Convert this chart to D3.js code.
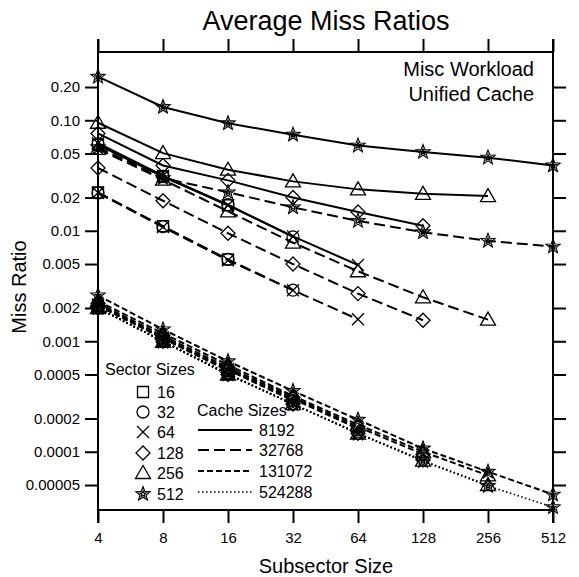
<!DOCTYPE html>
<html>
<head>
<meta charset="utf-8">
<script src="https://cdn.jsdelivr.net/npm/d3@7"></script>
<style>
  html, body { margin: 0; padding: 0; background: #fff; }
  svg { display: block; font-family: Arial, "Liberation Sans", sans-serif; }
</style>
</head>
<body>
<svg id="chart" width="579" height="577"></svg>
<script>
// Subsector sizes on the x axis (bytes)
const subsectors = [4, 8, 16, 32, 64, 128, 256, 512];
const sectorSizes = [16, 32, 64, 128, 256, 512];
const cacheSizes = [8192, 32768, 131072, 524288];

const yTickValues = [0.2, 0.1, 0.05, 0.02, 0.01, 0.005, 0.002, 0.001, 0.0005, 0.0002, 0.0001, 0.00005];
const yTickLabels = ["0.20", "0.10", "0.05", "0.02", "0.01", "0.005", "0.002", "0.001", "0.0005", "0.0002", "0.0001", "0.00005"];

// Miss ratios per sector size (rows: 16, 32, 64, 128, 256, 512), one value per subsector size
const miss8192 = [
  [0.060, 0.031, 0.0170],
  [0.061, 0.031, 0.0172, 0.0088],
  [0.062, 0.0315, 0.0170, 0.0089, 0.0049],
  [0.076, 0.039, 0.0286, 0.0200, 0.0148, 0.0111],
  [0.095, 0.0504, 0.0357, 0.0280, 0.0237, 0.0216, 0.0206],
  [0.248, 0.132, 0.094, 0.074, 0.059, 0.0516, 0.0459, 0.039]
];
const miss32768 = [
  [0.0222, 0.0110, 0.0055],
  [0.0220, 0.0109, 0.0055, 0.0029],
  [0.0221, 0.0108, 0.0054, 0.0029, 0.00158],
  [0.037, 0.0187, 0.0095, 0.0050, 0.0027, 0.00155],
  [0.055, 0.029, 0.0150, 0.0078, 0.0043, 0.0025, 0.00157],
  [0.057, 0.030, 0.0223, 0.0163, 0.0123, 0.0097, 0.0081, 0.0072]
];
const miss131072 = [
  [0.0021, 0.00106, 0.00054],
  [0.0021, 0.00107, 0.00055, 0.00029],
  [0.00215, 0.00108, 0.00056, 0.00030, 0.000162],
  [0.0022, 0.00112, 0.00058, 0.00031, 0.000168, 0.000095],
  [0.0023, 0.00118, 0.00061, 0.00032, 0.000176, 0.000100, 0.000061],
  [0.0026, 0.00128, 0.00066, 0.000355, 0.000195, 0.000107, 0.000066, 0.000041]
];
const miss524288 = [
  [0.0020, 0.00100, 0.00051],
  [0.0020, 0.00100, 0.00051, 0.00027],
  [0.0020, 0.00100, 0.00050, 0.00027, 0.000148],
  [0.0020, 0.00100, 0.00050, 0.00027, 0.000147, 0.000084],
  [0.0020, 0.00099, 0.00050, 0.00027, 0.000146, 0.000083, 0.000050],
  [0.0020, 0.00099, 0.00050, 0.00027, 0.000146, 0.000082, 0.000049, 0.0000315]
];

const missByCache = [miss8192, miss32768, miss131072, miss524288];

// ---- layout ----
const svg = d3.select("#chart");
const plotLeft = 98, plotRight = 553, plotTop = 52, plotBottom = 510;
const tickLen = 13;
const fontFamily = "Arial, 'Liberation Sans', sans-serif";

const x = d3.scaleLog().base(2).domain([4, 512]).range([plotLeft, plotRight]);
const y = d3.scaleLog().domain([0.0000297, 0.415]).range([plotBottom, plotTop]);

// line style per cache size
const lineStyles = [
  { dash: null, width: 2 },
  { dash: "11,5", width: 2 },
  { dash: "6,3", width: 2 },
  { dash: "1.5,2.5", width: 1.6 }
];

// marker shapes per sector size
function starPath(R, r) {
  const pts = [];
  for (let i = 0; i < 10; i++) {
    const a = -Math.PI / 2 + i * Math.PI / 5;
    const rad = i % 2 === 0 ? R : r;
    pts.push([rad * Math.cos(a), rad * Math.sin(a)]);
  }
  return "M" + pts.map(p => p[0].toFixed(2) + "," + p[1].toFixed(2)).join("L") + "Z";
}
function circlePath(r) {
  const p = d3.path();
  p.moveTo(r, 0);
  p.arc(0, 0, r, 0, 2 * Math.PI);
  p.closePath();
  return p.toString();
}
const markerPaths = [
  "M-5.5,-5.5L5.5,-5.5L5.5,5.5L-5.5,5.5Z",   // square
  circlePath(6),                              // circle
  "M-6,-6L6,6M-6,6L6,-6",                     // X
  "M0,-7L7,0L0,7L-7,0Z",                      // diamond
  "M0,-7.5L7.5,5.5L-7.5,5.5Z",                // triangle
  starPath(7.5, 3.2) + starPath(3.2, 1.3)     // star
];

function drawMarker(g, cx, cy, idx) {
  g.append("path")
    .attr("d", markerPaths[idx])
    .attr("transform", `translate(${cx},${cy})`)
    .attr("fill", "none")
    .attr("stroke", "#000")
    .attr("stroke-width", idx === 5 ? 1.1 : 1.3);
}

// ---- axes frame ----
const axisG = svg.append("g").attr("stroke", "#000").attr("stroke-width", 2).attr("fill", "none");
axisG.append("line").attr("x1", plotLeft).attr("x2", plotRight).attr("y1", plotTop).attr("y2", plotTop);
axisG.append("line").attr("x1", plotLeft).attr("x2", plotRight).attr("y1", plotBottom).attr("y2", plotBottom);
axisG.append("line").attr("x1", plotLeft).attr("x2", plotLeft).attr("y1", plotTop - tickLen).attr("y2", plotBottom + tickLen);
axisG.append("line").attr("x1", plotRight).attr("x2", plotRight).attr("y1", plotTop - tickLen).attr("y2", plotBottom + tickLen);

// bottom axis with labels
const xAxis = d3.axisBottom(x).tickValues(subsectors).tickFormat(d3.format("d")).tickSize(tickLen).tickPadding(9);
const gx = svg.append("g").attr("transform", `translate(0,${plotBottom})`).call(xAxis);
gx.select(".domain").remove();
gx.selectAll(".tick line").attr("stroke-width", 2);
gx.selectAll("text").attr("font-size", 15).attr("font-family", fontFamily);

// top axis ticks only
const gxt = svg.append("g").attr("transform", `translate(0,${plotTop})`)
  .call(d3.axisTop(x).tickValues(subsectors).tickFormat("").tickSize(tickLen));
gxt.select(".domain").remove();
gxt.selectAll(".tick line").attr("stroke-width", 2);

// left axis with labels
const yAxis = d3.axisLeft(y).tickValues(yTickValues)
  .tickFormat((d, i) => yTickLabels[i]).tickSize(tickLen).tickPadding(5);
const gy = svg.append("g").attr("transform", `translate(${plotLeft},0)`).call(yAxis);
gy.select(".domain").remove();
gy.selectAll(".tick line").attr("stroke-width", 2);
gy.selectAll("text").attr("font-size", 15).attr("font-family", fontFamily);

// right axis ticks only
const gyr = svg.append("g").attr("transform", `translate(${plotRight},0)`)
  .call(d3.axisRight(y).tickValues(yTickValues).tickFormat("").tickSize(tickLen));
gyr.select(".domain").remove();
gyr.selectAll(".tick line").attr("stroke-width", 2);

// ---- data lines ----
const line = d3.line().x(d => x(d[0])).y(d => y(d[1]));
const linesG = svg.append("g");
const marksG = svg.append("g");

missByCache.forEach((rows, ci) => {
  rows.forEach((vals, si) => {
    const pts = vals.map((v, k) => [subsectors[k], v]);
    const p = linesG.append("path")
      .attr("d", line(pts))
      .attr("fill", "none")
      .attr("stroke", "#000")
      .attr("stroke-width", lineStyles[ci].width);
    if (lineStyles[ci].dash) p.attr("stroke-dasharray", lineStyles[ci].dash);
    pts.forEach(d => drawMarker(marksG, x(d[0]), y(d[1]), si));
  });
});

// ---- titles ----
svg.append("text").attr("x", 326).attr("y", 30).attr("text-anchor", "middle")
  .attr("font-size", 27).text("Average Miss Ratios");
svg.append("text").attr("x", 534).attr("y", 76).attr("text-anchor", "end")
  .attr("font-size", 20).text("Misc Workload");
svg.append("text").attr("x", 534).attr("y", 101).attr("text-anchor", "end")
  .attr("font-size", 20).text("Unified Cache");
svg.append("text").attr("x", 326).attr("y", 573).attr("text-anchor", "middle")
  .attr("font-size", 20).text("Subsector Size");
svg.append("text").attr("transform", "translate(26,287) rotate(-90)").attr("text-anchor", "middle")
  .attr("font-size", 20).text("Miss Ratio");

// ---- legends ----
const legFont = 16;
svg.append("text").attr("x", 105).attr("y", 375).attr("font-size", legFont).text("Sector Sizes");
const rowY = [392, 412, 432, 453, 473, 494];
sectorSizes.forEach((s, i) => {
  drawMarker(svg, 143, rowY[i], i);
  svg.append("text").attr("x", 157).attr("y", rowY[i] + 6).attr("font-size", legFont).text(s);
});

svg.append("text").attr("x", 197).attr("y", 416).attr("font-size", legFont).text("Cache Sizes");
const cacheRowY = [430, 450, 471, 492];
cacheSizes.forEach((c, i) => {
  const l = svg.append("line").attr("x1", 198).attr("x2", 252)
    .attr("y1", cacheRowY[i]).attr("y2", cacheRowY[i])
    .attr("stroke", "#000").attr("stroke-width", lineStyles[i].width);
  if (lineStyles[i].dash) l.attr("stroke-dasharray", lineStyles[i].dash);
  svg.append("text").attr("x", 259).attr("y", cacheRowY[i] + 6).attr("font-size", legFont).text(c);
});
</script>
</body>
</html>
